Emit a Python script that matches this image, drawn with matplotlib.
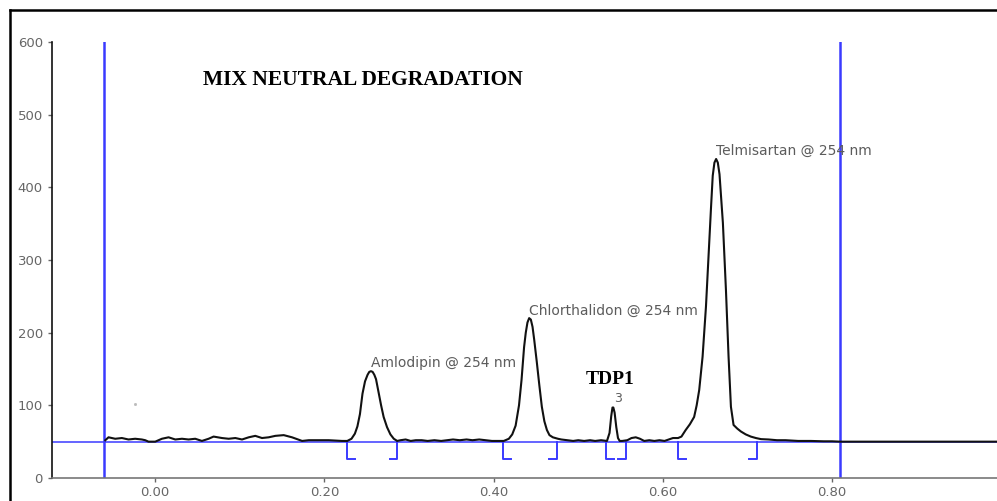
import matplotlib.pyplot as plt
from matplotlib.lines import Line2D

# chromatogram trace (retention time, response)
times = [-0.059, -0.0552, -0.0473, -0.0394, -0.0316, -0.0237, -0.0158, -0.0118, -0.0079, 0.0,
         0.0079, 0.0158, 0.0237, 0.0316, 0.0394, 0.0473, 0.0552, 0.0631, 0.069, 0.0789,
         0.0868, 0.0947, 0.1026, 0.1105, 0.1183, 0.1262, 0.1341, 0.142, 0.1519, 0.1617,
         0.1736, 0.1815, 0.1893, 0.2051, 0.2209,
         0.227, 0.232, 0.236, 0.239, 0.242, 0.245, 0.248, 0.251, 0.253, 0.255, 0.257, 0.259,
         0.261, 0.264, 0.267, 0.270, 0.274, 0.278, 0.282, 0.286,
         0.290, 0.296, 0.302, 0.308, 0.315, 0.322, 0.330, 0.338, 0.345, 0.352, 0.360, 0.368,
         0.375, 0.383, 0.390, 0.398, 0.405,
         0.412, 0.418, 0.422, 0.426, 0.430, 0.433, 0.436, 0.438, 0.440, 0.442, 0.444, 0.446,
         0.448, 0.451, 0.454, 0.457, 0.460, 0.463, 0.466, 0.470, 0.476,
         0.480, 0.487, 0.494, 0.500, 0.507, 0.514, 0.520, 0.527, 0.534,
         0.537, 0.539, 0.5405, 0.5415, 0.543, 0.545, 0.547, 0.549,
         0.552, 0.558, 0.563, 0.568, 0.573, 0.578, 0.584, 0.590, 0.596, 0.602, 0.607, 0.612,
         0.618,
         0.622, 0.627, 0.632, 0.637, 0.640, 0.643, 0.647, 0.651, 0.654, 0.657, 0.659, 0.661,
         0.663, 0.665, 0.667, 0.671, 0.6746, 0.6777, 0.6805, 0.6836, 0.688, 0.6923, 0.698,
         0.704, 0.710,
         0.716, 0.725, 0.735, 0.745, 0.760, 0.775, 0.790, 0.800, 0.810, 0.900, 1.000]
response = [52, 56, 54, 55, 53, 54, 53, 52, 50, 50,
            54, 56, 53, 54, 53, 54, 51, 54, 57, 55,
            54, 55, 53, 56, 58, 55, 56, 58, 59, 56,
            51, 52, 52, 52, 51,
            51, 54, 61, 71, 88, 116, 133, 142, 146, 147, 146, 142,
            136, 118, 100, 84, 70, 60, 54, 51,
            52, 53, 51, 52, 52, 51, 52, 51, 52, 53, 52, 53,
            52, 53, 52, 51, 51,
            51, 54, 60, 72, 100, 135, 180, 200, 214, 220, 218, 208,
            190, 160, 128, 98, 78, 66, 59, 56, 54,
            53, 52, 51, 52, 51, 52, 51, 52, 51,
            62, 85, 97, 97, 90, 70, 55, 51,
            51, 52, 55, 56, 54, 51, 52, 51, 52, 51, 53, 55,
            55,
            57, 66, 74, 84, 100, 121, 167, 236, 305, 373, 416, 434,
            439, 434, 418, 351, 259, 167, 98, 73, 68, 64, 60,
            57, 55,
            53.5, 53, 52, 52, 51, 51, 50.5, 50.5, 50, 50, 50]

# integrated peaks
peak_names = ["Amlodipin @ 254 nm", "Chlorthalidon @ 254 nm", "3", "Telmisartan @ 254 nm"]
peak_times = [0.255, 0.442, 0.541, 0.663]
peak_heights = [147, 220, 98, 439]
peak_starts = [0.227, 0.411, 0.533, 0.618]
peak_ends = [0.286, 0.475, 0.556, 0.711]

baseline_level = 50
window_lines = [-0.060, 0.809]

fig = plt.figure(figsize=(9.97, 5.01), dpi=100)
ax = fig.add_axes([52 / 997, 23 / 501, 945 / 997, 436 / 501])

blue = "#3a3aff"
ax.axhline(baseline_level, color=blue, lw=1.1, zorder=1)
for t in window_lines:
    ax.plot([t, t], [0, 600], color=blue, lw=1.8, zorder=1)

ax.plot(times, response, color="#111111", lw=1.5, zorder=3)

# integration brackets
foot = 0.009
low = 26
for s, e in zip(peak_starts, peak_ends):
    ax.plot([s + foot, s, s], [low, low, baseline_level], color=blue, lw=1.4, zorder=2)
    ax.plot([e - foot, e, e], [low, low, baseline_level], color=blue, lw=1.4, zorder=2)

label_col = "#5c5c5c"
for name, t, h in zip(peak_names, peak_times, peak_heights):
    if name == "3":
        ax.text(t + 0.006, h + 3, name, color=label_col, fontsize=9, ha="center", va="bottom")
    else:
        ax.text(t, h + 1, name, color=label_col, fontsize=10, ha="left", va="bottom")

ax.text(0.057, 548, "MIX NEUTRAL DEGRADATION", family="Liberation Serif", weight="bold",
        fontsize=15.5, ha="left", va="center")
ax.text(0.538, 135, "TDP1", family="Liberation Serif", weight="bold",
        fontsize=14, ha="center", va="center")
ax.plot([-0.024], [102], marker="s", ms=1, color="#bbbbbb", lw=0)

ax.set_xlim(-0.122, 0.995)
ax.set_ylim(0, 600)
ax.set_xticks([0.0, 0.2, 0.4, 0.6, 0.8])
ax.set_xticklabels(["0.00", "0.20", "0.40", "0.60", "0.80"])
ax.set_yticks([0, 100, 200, 300, 400, 500, 600])
ax.tick_params(colors="#666666", labelsize=9.5, length=3, width=1)
ax.tick_params(axis="x", pad=3)

for side in ["top", "right"]:
    ax.spines[side].set_visible(False)
ax.spines["left"].set_color("#111111")
ax.spines["bottom"].set_color("#777777")
ax.spines["left"].set_linewidth(1.2)
ax.spines["bottom"].set_linewidth(1.2)

# outer frame (only left and top edges visible in the crop)
fig.add_artist(Line2D([10 / 997, 10 / 997], [0, 491 / 501], color="black", lw=1.8,
                      transform=fig.transFigure))
fig.add_artist(Line2D([10 / 997, 1.0], [491 / 501, 491 / 501], color="black", lw=1.8,
                      transform=fig.transFigure))

fig.savefig("out.png", dpi=100)
